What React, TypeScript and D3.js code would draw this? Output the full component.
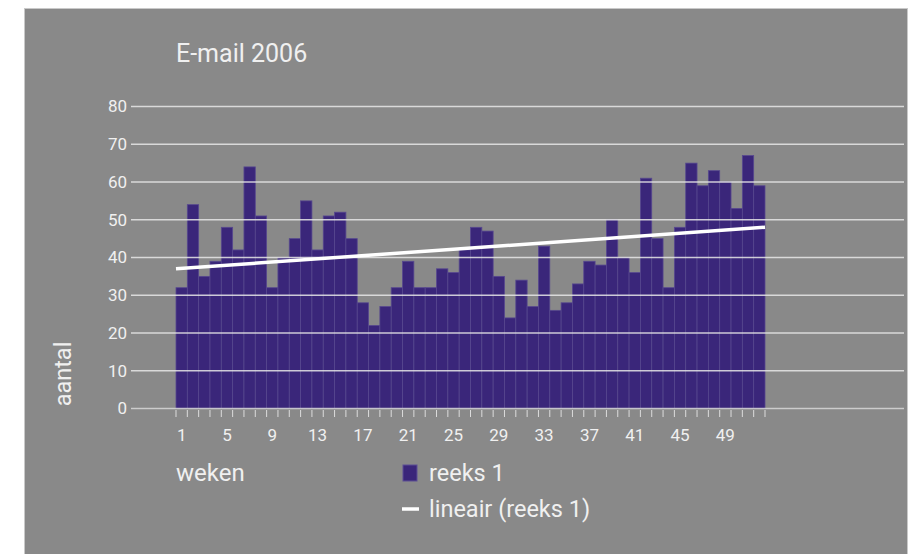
import React from "react";
import * as d3 from "d3";

const weeks: number[] = Array.from({ length: 52 }, (_, i) => i + 1);
const emailCounts: number[] = [
  32, 54, 35, 39, 48, 42, 64, 51, 32, 40,
  45, 55, 42, 51, 52, 45, 28, 22, 27, 32,
  39, 32, 32, 37, 36, 42, 48, 47, 35, 24,
  34, 27, 43, 26, 28, 33, 39, 38, 50, 40,
  36, 61, 45, 32, 48, 65, 59, 63, 60, 53,
  67, 59,
];
const trendEnds: number[] = [37, 48];
const yTicks: number[] = [0, 10, 20, 30, 40, 50, 60, 70, 80];
const xTickLabels: number[] = [1, 5, 9, 13, 17, 21, 25, 29, 33, 37, 41, 45, 49];

const W = 914;
const H = 554;
const FONT = "Roboto, 'Noto Sans', sans-serif";
const TEXT = "#f0f0f0";

export default function App() {
  const x = d3
    .scaleBand<number>()
    .domain(weeks)
    .range([176, 765])
    .padding(0);
  const y = d3.scaleLinear().domain([0, 80]).range([408.5, 106.5]);
  const bw = x.bandwidth();

  const trendLine = d3
    .line<[number, number]>()
    .x((d) => d[0])
    .y((d) => y(d[1]));
  const trendPts: [number, number][] = [
    [x(weeks[0])!, trendEnds[0]],
    [x(weeks[weeks.length - 1])! + bw, trendEnds[1]],
  ];

  const edges = weeks.map((w) => x(w)!).concat([x(weeks[weeks.length - 1])! + bw]);

  return (
    <svg
      width={W}
      height={H}
      style={{ position: "absolute", left: 0, top: 0 }}
      fontFamily={FONT}
    >
      <rect x={0} y={0} width={W} height={H} fill="#ffffff" />
      <rect x={24.5} y={8.5} width={883} height={560} fill="#898989" stroke="#c9c9c9" strokeWidth={1} />

      <text x={176} y={62} fontSize={25} fill={TEXT}>
        E-mail 2006
      </text>

      {emailCounts.map((v, i) => (
        <rect
          key={i}
          x={x(weeks[i])!}
          y={y(v)}
          width={bw}
          height={y(0) - y(v)}
          fill="#3a267a"
          stroke="#57488f"
          strokeWidth={0.8}
        />
      ))}

      {yTicks.map((t) => (
        <g key={t}>
          <line
            x1={131}
            x2={904}
            y1={y(t)}
            y2={y(t)}
            stroke={t === 0 ? "#d8d8d8" : "#e8e8e8"}
            strokeOpacity={0.85}
            strokeWidth={1.3}
          />
          <text
            x={127}
            y={y(t)}
            dy="0.35em"
            textAnchor="end"
            fontSize={17}
            fill={TEXT}
          >
            {t}
          </text>
        </g>
      ))}

      {edges.map((ex, i) => (
        <line key={i} x1={ex} x2={ex} y1={410} y2={417} stroke="#dcdcdc" strokeWidth={1} />
      ))}
      {xTickLabels.map((w) => (
        <text
          key={w}
          x={x(w)! + bw / 2}
          y={435}
          dy="0.35em"
          textAnchor="middle"
          fontSize={17}
          fill={TEXT}
        >
          {w}
        </text>
      ))}

      <path d={trendLine(trendPts)!} stroke="#ffffff" strokeWidth={3.5} fill="none" />

      <text
        transform="translate(71,374) rotate(-90)"
        textAnchor="middle"
        fontSize={23.5}
        fill={TEXT}
      >
        aantal
      </text>

      <text x={176} y={481} fontSize={24} fill={TEXT}>
        weken
      </text>

      <rect x={403} y={465} width={14} height={16} fill="#3a267a" stroke="#5d4f95" strokeWidth={1} />
      <text x={429} y={481} fontSize={23.5} fill={TEXT}>
        reeks 1
      </text>
      <line x1={402} x2={419} y1={509} y2={509} stroke="#ffffff" strokeWidth={3.5} />
      <text x={429} y={517} fontSize={23.5} fill={TEXT}>
        lineair (reeks 1)
      </text>
    </svg>
  );
}
